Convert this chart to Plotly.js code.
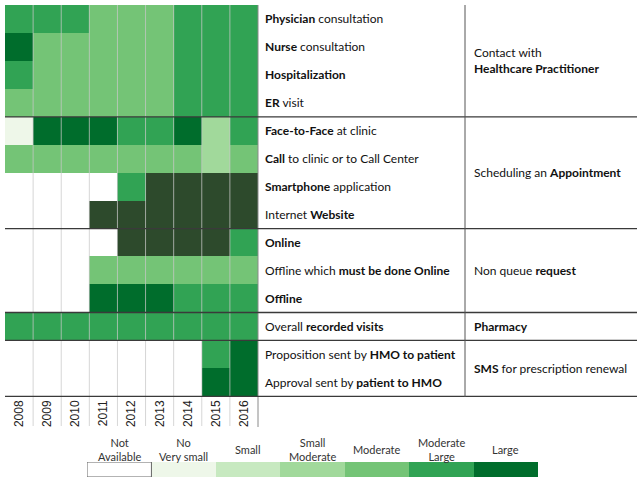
<!DOCTYPE html>
<html><head><meta charset="utf-8">
<script src="https://cdn.plot.ly/plotly-3.0.1.min.js"></script>
<style>html,body{margin:0;padding:0;background:#fff}#c{width:640px;height:480px}</style>
</head><body><div id="c"></div>
<script>
const years = ['2008','2009','2010','2011','2012','2013','2014','2015','2016'];
const rowLabels = [
  '<b>Physician</b> consultation',
  '<b>Nurse</b> consultation',
  '<b>Hospitalization</b>',
  '<b>ER</b> visit',
  '<b>Face-to-Face</b> at clinic',
  '<b>Call</b> to clinic or to Call Center',
  '<b>Smartphone</b> application',
  'Internet <b>Website</b>',
  '<b>Online</b>',
  'Offline which <b>must be done Online</b>',
  '<b>Offline</b>',
  'Overall <b>recorded visits</b>',
  'Proposition sent by <b>HMO to patient</b>',
  'Approval sent by <b>patient to HMO</b>'
];
// 0 Not available, 1 No/Very small, 2 Small, 3 Small Moderate, 4 Moderate, 5 Moderate Large, 6 Large, 7 dark (unlabelled)
const physician   = [5,5,5,4,4,4,5,5,5];
const nurse       = [6,4,4,4,4,4,5,5,5];
const hospital    = [5,4,4,4,4,4,5,5,5];
const erVisit     = [4,4,4,4,4,4,5,5,5];
const faceToFace  = [1,6,6,6,5,5,6,3,5];
const callClinic  = [4,4,4,4,4,4,4,3,4];
const smartphone  = [0,0,0,0,5,7,7,7,7];
const website     = [0,0,0,7,7,7,7,7,7];
const online      = [0,0,0,0,7,7,7,7,5];
const offlineMust = [0,0,0,4,4,4,4,4,4];
const offline     = [0,0,0,6,6,6,5,5,5];
const overall     = [5,5,5,5,5,5,5,5,5];
const proposition = [0,0,0,0,0,0,0,5,6];
const approval    = [0,0,0,0,0,0,0,6,6];
const groups = [
  {label:'Contact with<br><b>Healthcare Practitioner</b>', first:0, last:3},
  {label:'Scheduling an <b>Appointment</b>', first:4, last:7},
  {label:'Non queue <b>request</b>', first:8, last:10},
  {label:'<b>Pharmacy</b>', first:11, last:11},
  {label:'<b>SMS</b> for prescription renewal', first:12, last:13}
];
const legendLabels = ['Not<br>Available','No<br>Very small','Small','Small<br>Moderate','Moderate','Moderate<br>Large','Large'];
const legendLevels = [0,1,2,3,4,5,6];
const palette = ['#ffffff','#eef7e9','#c7e9c0','#a1d99b','#74c476','#31a354','#006d2c','#2d4a2c'];

const z = [physician,nurse,hospital,erVisit,faceToFace,callClinic,smartphone,website,online,offlineMust,offline,overall,proposition,approval];
const rowIdx = z.map((_,i)=>i);

const n = palette.length;
const cs = [];
palette.forEach((c,i)=>{cs.push([i/n,c]);cs.push([(i+1)/n,c]);});

const W=640,H=480;
const px = v=>v/W, py = v=>1-v/H;
const gridL=5, gridR=258, gridT=5, gridB=397, tableR=637, sepX=465;

const traces = [
  {type:'heatmap', x:years, y:rowIdx, z:z, colorscale:cs, zmin:-0.5, zmax:n-0.5, showscale:false, hoverinfo:'skip', xaxis:'x', yaxis:'y'},
  {type:'heatmap', x:legendLevels, y:[0], z:[legendLevels], colorscale:cs, zmin:-0.5, zmax:n-0.5, showscale:false, hoverinfo:'skip', xaxis:'x2', yaxis:'y2'}
];

const shapes = [];
for(let i=0;i<years.length-1;i++){
  shapes.push({type:'line', xref:'x', yref:'paper', x0:i+0.5, x1:i+0.5, y0:py(426), y1:py(gridT), line:{color:'rgba(200,200,200,0.75)', width:1}, layer:'above'});
}
shapes.push({type:'line', xref:'paper', yref:'paper', x0:px(gridR), x1:px(gridR), y0:py(427), y1:py(gridT), line:{color:'#8a8a8a', width:1}, layer:'above'});
const seps = groups.map(g=>g.last+0.5);
seps.forEach(s=>{
  shapes.push({type:'line', xref:'paper', yref:'y', x0:px(gridL), x1:px(tableR), y0:s, y1:s, line:{color:'#3a3a3a', width:1.3}, layer:'above'});
});
shapes.push({type:'line', xref:'paper', yref:'paper', x0:px(sepX), x1:px(sepX), y0:py(gridB), y1:py(gridT), line:{color:'#555', width:1}, layer:'above'});
shapes.push({type:'rect', xref:'x2', yref:'y2', x0:-0.5, x1:0.5, y0:-0.5, y1:0.5, line:{color:'#666', width:1}, layer:'above'});

const annotations = [];
rowLabels.forEach((t,i)=>{
  annotations.push({xref:'paper', yref:'y', x:px(263), y:i, text:t, showarrow:false, xanchor:'left', yanchor:'middle', font:{family:'Lato, sans-serif', size:12, color:'#111'}});
});
groups.forEach(g=>{
  annotations.push({xref:'paper', yref:'y', x:px(472), y:(g.first+g.last)/2, text:g.label, showarrow:false, xanchor:'left', yanchor:'middle', align:'left', font:{family:'Lato, sans-serif', size:12, color:'#111'}});
});
legendLabels.forEach((t,i)=>{
  annotations.push({xref:'x2', yref:'paper', x:legendLevels[i], y:py(449), text:t, showarrow:false, xanchor:'center', yanchor:'middle', align:'center', font:{family:'Lato, sans-serif', size:11, color:'#333'}});
});

const layout = {
  width:W, height:H, margin:{l:0,r:0,t:0,b:0}, paper_bgcolor:'#fff', plot_bgcolor:'#fff', showlegend:false,
  xaxis:{domain:[px(gridL),px(gridR)], type:'category', anchor:'y', showgrid:false, zeroline:false, ticks:'', tickangle:-90, tickfont:{family:'Liberation Sans, Arial, sans-serif', size:12, color:'#222'}, showline:false, fixedrange:true},
  yaxis:{domain:[py(gridB),py(gridT)], autorange:'reversed', showticklabels:false, showgrid:false, zeroline:false, ticks:'', fixedrange:true},
  xaxis2:{domain:[px(87),px(538)], anchor:'y2', range:[-0.5,6.5], showticklabels:false, showgrid:false, zeroline:false, ticks:'', fixedrange:true},
  yaxis2:{domain:[py(477),py(462)], range:[-0.5,0.5], showticklabels:false, showgrid:false, zeroline:false, ticks:'', fixedrange:true},
  shapes:shapes, annotations:annotations
};
Plotly.newPlot('c', traces, layout, {staticPlot:true, displayModeBar:false});
</script>
</body></html>
